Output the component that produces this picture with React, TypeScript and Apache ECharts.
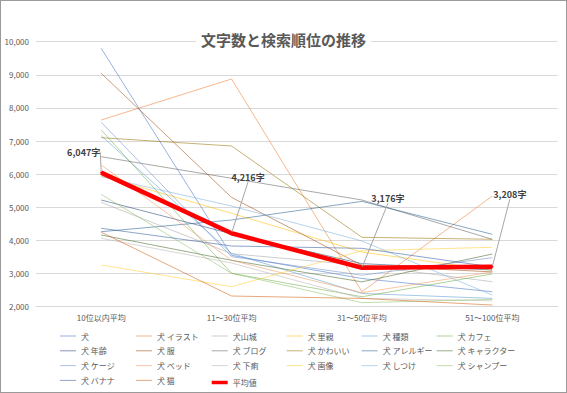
import React, { useEffect, useRef } from "react";
import * as echarts from "echarts";

const categories = ["10位以内平均", "11～30位平均", "31～50位平均", "51～100位平均"];
const yTicks = { min: 2000, max: 10000, interval: 1000 };

const inu = [9800, 3550, 2850, 2450];
const inuIllust = [7636, 8874, 2450, 5342];
const inuyamajo = [5150, 3600, 3250, 2755];
const inuSatooya = [5950, 4820, 3650, 3100];
const inuShurui = [7162, 3610, 2400, 2250];
const inuCafe = [7335, 3008, 2300, 2990];
const inuNenrei = [5221, 4200, 3300, 3108];
const inuFuku = [9046, 5300, 3250, 3050];
const inuBlog = [6528, 5876, 5221, 4035];
const inuKawaii = [7102, 6851, 4095, 4035];
const inuAllergy = [4265, 4617, 5180, 4185];
const inuCharacter = [4165, 3400, 2750, 3591];
const inuCage = [7567, 3510, 2950, 3480];
const inuBed = [6278, 3400, 2420, 3050];
const inuGeri = [4065, 3319, 2250, 2180];
const inuGazo = [3259, 2604, 3690, 3793];
const inuShitsuke = [5925, 5040, 3983, 2353];
const inuShampoo = [5393, 3008, 2121, 2222];
const inuBanana = [4367, 3832, 3762, 3200];
const inuNeko = [4250, 2322, 2250, 2050];
const average = [6047, 4216, 3176, 3208];

const seriesList: [string, number[], string][] = [
  ["犬", inu, "#4472C4"],
  ["犬 イラスト", inuIllust, "#ED7D31"],
  ["犬山城", inuyamajo, "#A5A5A5"],
  ["犬 里親", inuSatooya, "#FFC000"],
  ["犬 種類", inuShurui, "#5B9BD5"],
  ["犬 カフェ", inuCafe, "#70AD47"],
  ["犬 年齢", inuNenrei, "#264478"],
  ["犬 服", inuFuku, "#9E480E"],
  ["犬 ブログ", inuBlog, "#636363"],
  ["犬 かわいい", inuKawaii, "#997300"],
  ["犬 アレルギー", inuAllergy, "#255E91"],
  ["犬 キャラクター", inuCharacter, "#43682B"],
  ["犬 ケージ", inuCage, "#698ED0"],
  ["犬 ベッド", inuBed, "#F1975A"],
  ["犬 下痢", inuGeri, "#B7B7B7"],
  ["犬 画像", inuGazo, "#FFCD33"],
  ["犬 しつけ", inuShitsuke, "#7CAFDD"],
  ["犬 シャンプー", inuShampoo, "#8CC168"],
  ["犬 バナナ", inuBanana, "#335AA1"],
  ["犬 猫", inuNeko, "#D26012"],
];
const avgName = "平均値";

const legendColumns: string[][] = [
  ["犬", "犬 年齢", "犬 ケージ", "犬 バナナ"],
  ["犬 イラスト", "犬 服", "犬 ベッド", "犬 猫"],
  ["犬山城", "犬 ブログ", "犬 下痢"],
  ["犬 里親", "犬 かわいい", "犬 画像"],
  ["犬 種類", "犬 アレルギー", "犬 しつけ"],
  ["犬 カフェ", "犬 キャラクター", "犬 シャンプー"],
];
const legendLefts = [60, 136, 211.7, 286.7, 361.7, 436.7];
const labelOffsets = [
  [-17.5, -20.5],
  [16.5, -56],
  [26, -69],
  [17.5, -72],
];

const FONT = "'Noto Sans CJK JP', 'Noto Sans', sans-serif";
const THIN_ICON = "path://M0,0 L32,0 L32,2 L0,2 Z";

export default function App() {
  const ref = useRef<HTMLDivElement>(null);
  useEffect(() => {
    if (!ref.current) return;
    const chart = echarts.init(ref.current, null, { renderer: "svg" });
    const legends: any[] = legendColumns.map((col, i) => ({
      orient: "vertical",
      left: legendLefts[i],
      top: 331,
      padding: 0,
      icon: THIN_ICON,
      itemWidth: 16,
      itemHeight: 10,
      itemGap: 4.8,
      data: col,
      textStyle: { color: "#595959", fontSize: 8, fontFamily: FONT, lineHeight: 10 },
    }));
    legends.push({
      left: legendLefts[2],
      top: 378.5,
      padding: 0,
      icon: "rect",
      itemWidth: 16,
      itemHeight: 3.5,
      data: [avgName],
      textStyle: { color: "#595959", fontSize: 8, fontFamily: FONT },
    });
    const series: any[] = seriesList.map(([name, data, color]) => ({
      name,
      type: "line",
      data,
      symbol: "none",
      color,
      lineStyle: { width: 1, color, opacity: 0.55 },
      itemStyle: { color, opacity: 0.55 },
      z: 2,
    }));
    series.push({
      name: avgName,
      type: "line",
      data: average,
      symbol: "circle",
      symbolSize: 2,
      color: "#FF0000",
      itemStyle: { color: "#FF0000" },
      lineStyle: { width: 4.5, color: "#FF0000" },
      z: 5,
      label: {
        show: true,
        position: "top",
        formatter: (p: any) => Number(p.value).toLocaleString("en-US") + "字",
        color: "#404040",
        fontSize: 9,
        fontWeight: "bold",
        fontFamily: FONT,
      },
      labelLine: { show: true, lineStyle: { color: "#A6A6A6", width: 1 } },
      labelLayout: (params: any) => {
        const off = labelOffsets[params.dataIndex] || [0, 0];
        return {
          x: params.rect.x + params.rect.width / 2 + off[0],
          y: params.rect.y + params.rect.height / 2 + off[1],
          align: "center",
          verticalAlign: "middle",
        };
      },
    });
    chart.setOption({
      animation: false,
      backgroundColor: "#fff",
      title: {
        text: "文字数と検索順位の推移",
        left: "center",
        top: 31,
        padding: [1, 5],
        backgroundColor: "#fff",
        textStyle: { fontSize: 15, fontWeight: "bold", color: "#595959", fontFamily: FONT },
      },
      legend: legends,
      grid: { left: 36, right: 9.5, top: 41.7, bottom: 86.3 },
      xAxis: {
        type: "category",
        data: categories,
        boundaryGap: true,
        axisLine: { show: true, lineStyle: { color: "#D9D9D9" } },
        axisTick: { show: false },
        axisLabel: { color: "#595959", fontSize: 8, fontFamily: FONT, margin: 7 },
      },
      yAxis: {
        type: "value",
        min: yTicks.min,
        max: yTicks.max,
        interval: yTicks.interval,
        axisLine: { show: false },
        axisTick: { show: false },
        splitLine: { lineStyle: { color: "#D9D9D9" } },
        axisLabel: {
          color: "#595959",
          fontSize: 8,
          fontFamily: FONT,
          margin: 7,
          formatter: (v: number) => v.toLocaleString("en-US"),
        },
      },
      series,
    });
    return () => chart.dispose();
  }, []);
  return (
    <div style={{ position: "fixed", left: 0, top: 0, width: 567, height: 393 }}>
      <div ref={ref} style={{ position: "absolute", left: 0, top: 0, width: 567, height: 393 }} />
      <div
        style={{
          position: "absolute",
          left: 0,
          top: 0,
          width: 567,
          height: 393,
          boxSizing: "border-box",
          border: "1px solid #9a9a9a",
          pointerEvents: "none",
        }}
      />
    </div>
  );
}
